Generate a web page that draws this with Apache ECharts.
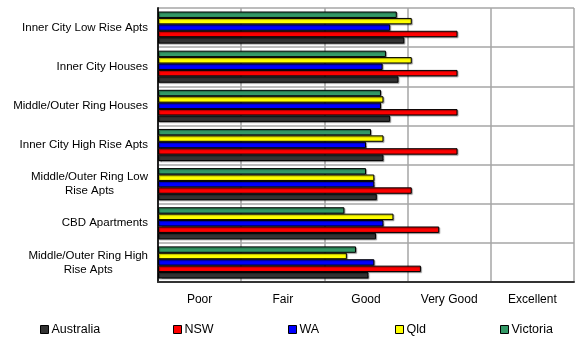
<!DOCTYPE html>
<html>
<head>
<meta charset="utf-8">
<script src="https://cdn.jsdelivr.net/npm/echarts@6/dist/echarts.min.js"></script>
<style>
  html, body { margin: 0; padding: 0; background: #ffffff; }
  #chart { width: 576px; height: 342px; }
</style>
</head>
<body>
<div id="chart"></div>
<script>
// Housing types, listed top to bottom
const categories = [
  'Inner City Low Rise Apts',
  'Inner City Houses',
  'Middle/Outer Ring Houses',
  'Inner City High Rise Apts',
  'Middle/Outer Ring Low\nRise Apts',
  'CBD Apartments',
  'Middle/Outer Ring High\nRise Apts'
];

// Rating scale labels (one per unit interval, 0..5)
const ratingLabels = ['Poor', 'Fair', 'Good', 'Very Good', 'Excellent'];

// Average rating by state (same order as categories)
const australia = [2.96, 2.89, 2.79, 2.71, 2.63, 2.62, 2.53];
const nsw       = [3.60, 3.60, 3.60, 3.60, 3.05, 3.38, 3.16];
const wa        = [2.79, 2.70, 2.68, 2.50, 2.60, 2.71, 2.60];
const qld       = [3.05, 3.05, 2.71, 2.71, 2.60, 2.83, 2.27];
const victoria  = [2.87, 2.74, 2.68, 2.56, 2.50, 2.24, 2.38];

// Legend order (left to right); bars are stacked within a group in reverse
const seriesDefs = [
  { name: 'Australia', data: australia, color: '#333333' },
  { name: 'NSW',       data: nsw,       color: '#ff0000' },
  { name: 'WA',        data: wa,        color: '#0000ff' },
  { name: 'Qld',       data: qld,       color: '#ffff00' },
  { name: 'Victoria',  data: victoria,  color: '#339966' }
];

const FONT = 'Liberation Sans, Arial, sans-serif';
const legendLefts = [40, 173, 288, 395, 500];

const chart = echarts.init(document.getElementById('chart'), null, { renderer: 'canvas' });

chart.setOption({
  backgroundColor: '#ffffff',
  animation: false,
  textStyle: { fontFamily: FONT },
  grid: { left: 158, right: 2, top: 8, bottom: 60, containLabel: false },
  legend: seriesDefs.map((s, i) => ({
    data: [s.name],
    left: legendLefts[i],
    top: 323,
    itemWidth: 8,
    itemHeight: 8,
    itemGap: 4,
    icon: 'rect',
    padding: 0,
    textStyle: { fontFamily: FONT, fontSize: 12.5, color: '#000000', padding: [0, 0, 0, -2] },
    itemStyle: { borderColor: '#000000', borderWidth: 1 }
  })),
  xAxis: [
    {
      type: 'value',
      min: 0,
      max: 5,
      interval: 1,
      axisLine: { show: true, lineStyle: { color: '#333333', width: 2 } },
      axisTick: { show: false },
      axisLabel: { show: false },
      splitLine: { show: true, lineStyle: { color: '#a6a6a6', width: 1.5 } }
    },
    {
      type: 'category',
      position: 'bottom',
      data: ratingLabels,
      boundaryGap: true,
      axisLine: { show: false },
      axisTick: { show: false },
      splitLine: { show: false },
      axisLabel: { color: '#000000', fontSize: 12, fontFamily: FONT, margin: 12 }
    }
  ],
  yAxis: {
    type: 'category',
    data: categories,
    inverse: true,
    axisLine: { show: true, lineStyle: { color: '#222222', width: 2 } },
    axisTick: { show: false },
    splitLine: { show: true, lineStyle: { color: '#a6a6a6', width: 1.5 } },
    axisLabel: {
      color: '#000000',
      fontSize: 11.5,
      fontFamily: FONT,
      margin: 10,
      lineHeight: 14,
      formatter: (v) => v.split('\n').map(l => '{c|' + l + '}').join('\n'),
      rich: { c: { align: 'center', fontSize: 11.5, lineHeight: 14, fontFamily: FONT, color: '#000000' } }
    }
  },
  series: seriesDefs.slice().reverse().map(s => ({
    name: s.name,
    type: 'bar',
    xAxisIndex: 0,
    data: s.data,
    barGap: '0%',
    barCategoryGap: '18%',
    itemStyle: {
      color: s.color,
      borderColor: '#000000',
      borderWidth: 1,
      shadowColor: 'rgba(0,0,0,0.35)',
      shadowBlur: 1,
      shadowOffsetX: 1,
      shadowOffsetY: 1
    }
  }))
});
</script>
</body>
</html>
